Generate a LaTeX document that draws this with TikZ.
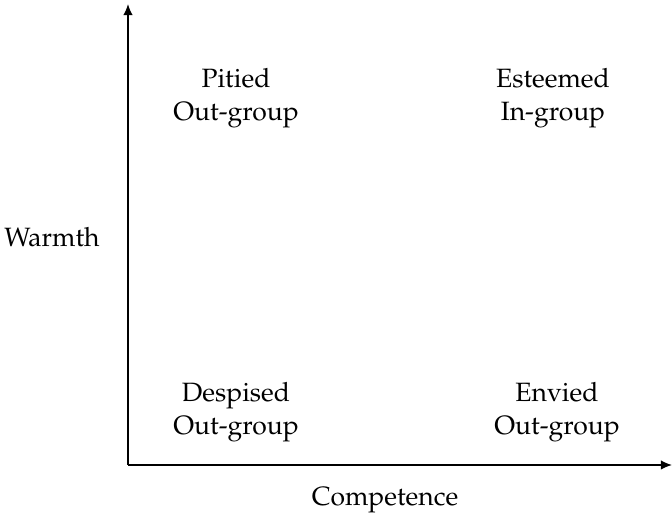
\documentclass[tikz,border=0pt]{standalone}
\usepackage[T1]{fontenc}
\usepackage{mathpazo}
\usetikzlibrary{arrows.meta}
\begin{document}
\begin{tikzpicture}[x=0.0126cm,y=-0.0126cm,
  lbl/.style={align=center,inner sep=0pt,font=\fontsize{9.5}{11.9}\selectfont},
  axis/.style={line width=0.5pt,-{Latex[length=4pt,width=3.4pt]}}]
\useasboundingbox (0,0) rectangle (672,516);
\coordinate (o) at (128,465);
\coordinate (ytip) at (128,4);
\coordinate (xtip) at (672,465);
\draw[axis] (o) -- (ytip);
\draw[axis] (o) -- (xtip);
\node[lbl] (pit) at (236,98) {Pitied\\Out-group};
\node[lbl] (est) at (553,98) {Esteemed\\In-group};
\node[lbl] (des) at (236,412) {Despised\\Out-group};
\node[lbl] (env) at (557,412) {Envied\\Out-group};
\node[lbl,anchor=base] (warm) at (52,247) {Warmth};
\node[lbl,anchor=base] (comp) at (385,506) {Competence};
\end{tikzpicture}
\end{document}
